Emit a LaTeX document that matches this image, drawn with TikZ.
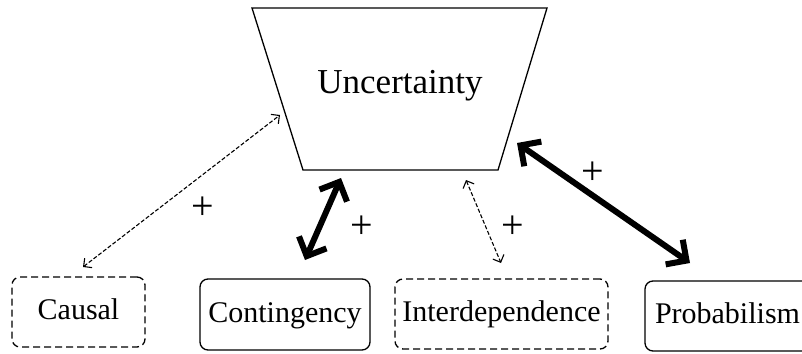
\documentclass[tikz,border=0pt]{standalone}
\usepackage{fontspec}
\setmainfont{Liberation Serif}
\usetikzlibrary{arrows.meta}
\begin{document}
\begin{tikzpicture}[x=1pt,y=-1pt,
  box/.style={draw, rounded corners=8pt, line width=1.3pt, inner sep=0pt,
    font=\fontsize{30}{34}\selectfont, text height=21pt, text depth=6pt},
  dashbox/.style={box, dash pattern=on 7pt off 4pt},
  strong/.style={line width=6pt, line cap=round,
    {Straight Barb[length=15pt,width=30pt,line width=6pt]}-{Straight Barb[length=15pt,width=30pt,line width=6pt]}},
  weak/.style={line width=1.1pt, dash pattern=on 4pt off 2pt,
    {Straight Barb[length=6pt,width=12pt,line width=1.1pt]}-{Straight Barb[length=6pt,width=12pt,line width=1.1pt]}},
  sign/.style={font=\fontsize{40}{44}\selectfont, inner sep=0pt}]
\useasboundingbox (0,0) rectangle (802,353);
\clip (0,0) rectangle (802,353);

% central trapezium
\coordinate (tl) at (252,8);  \coordinate (tr) at (547,8);
\coordinate (br) at (498,170); \coordinate (bl) at (303,170);
\draw[line width=1.3pt, line join=miter] (tl) -- (tr) -- (br) -- (bl) -- cycle;
\node[font=\fontsize{35}{40}\selectfont, anchor=base] (unc) at (400,93) {Uncertainty};

% bottom row
\node[dashbox, minimum width=133pt, minimum height=70pt] (causal) at (78.5,312) {Causal};
\node[box, minimum width=170pt, minimum height=71pt] (cont) at (285,314.5) {Contingency};
\node[dashbox, minimum width=213pt, minimum height=70pt] (inter) at (501.5,314) {Interdependence};
\node[box, minimum width=165pt, minimum height=70pt] (prob) at (727.5,316) {Probabilism};

% arrow ends
\coordinate (c1) at (280,115);  \coordinate (c2) at (83,267);
\coordinate (k1) at (341,178);  \coordinate (k2) at (305,260);
\coordinate (i1) at (466,180);  \coordinate (i2) at (501,263);
\coordinate (p1) at (517,143);  \coordinate (p2) at (690,263);

\draw[weak] (c2) -- (c1);
\draw[strong] (k2) -- (k1);
\draw[weak] (i1) -- (i2);
\draw[strong] (p1) -- (p2);

% signs
\node[sign] (s1) at (203,208) {+};
\node[sign] (s2) at (362,227) {+};
\node[sign] (s3) at (513,227) {+};
\node[sign] (s4) at (593,173) {+};
\end{tikzpicture}
\end{document}
